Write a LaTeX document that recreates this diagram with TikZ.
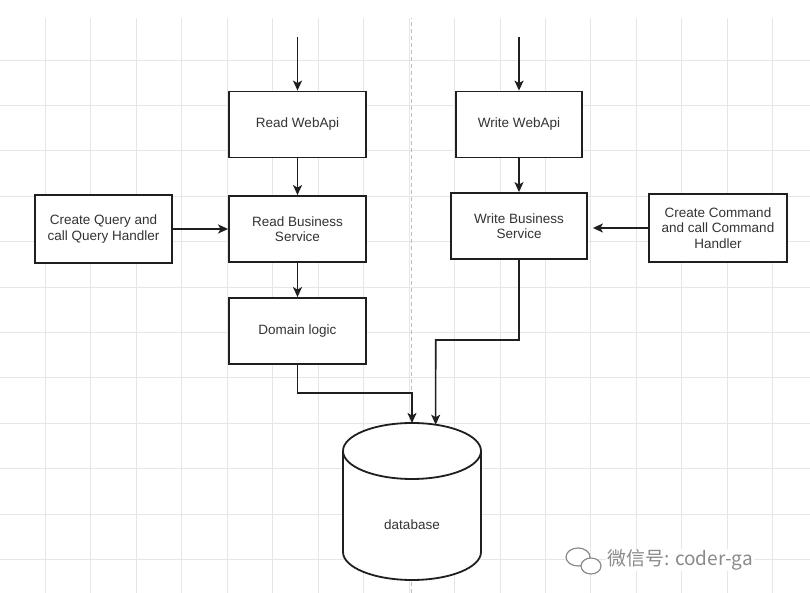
\documentclass[tikz,border=0pt]{standalone}
\usepackage{fontspec}
\setmainfont{Liberation Sans}
\newfontfamily\cjkfont{Noto Sans CJK SC}
\usepackage{xcolor}
\definecolor{gridGray}{HTML}{E6E6E6}
\definecolor{splitGray}{HTML}{BDBDBD}
\definecolor{inkDark}{HTML}{1F1F1F}
\definecolor{textDark}{HTML}{333333}
\definecolor{markGray}{HTML}{8A8A8A}
\usetikzlibrary{arrows.meta,shapes.geometric}

\begin{document}
\begin{tikzpicture}[x=1pt, y=1pt,
    every node/.style={font=\fontsize{13.5}{15.5}\selectfont, text=textDark},
    box/.style={draw=inkDark, fill=white, line width=1.8pt, align=center, inner sep=0pt, minimum height=66pt},
    flow/.style={draw=inkDark, line width=1.6pt, -{Stealth[length=10pt, width=9pt, inset=2.5pt]}},
    grid line/.style={draw=gridGray, line width=0.9pt},
    split/.style={draw=splitGray, line width=0.8pt, dash pattern=on 4pt off 3pt}]
  \useasboundingbox (0,0) rectangle (810,593);
  % Background grid
  \foreach \k in {1,...,17}
    \draw[grid line] (45.45*\k, 0) -- (45.45*\k, 575);
  \foreach \k in {0,...,11}
    \draw[grid line] (0, 533-45.4*\k) -- (810, 533-45.4*\k);
  \draw[split] (411, 0) -- (411, 575);
  % Read side
  \node[box, minimum width=137pt] (readapi) at (297.5, 468.5) {Read WebApi};
  \node[box, minimum width=137pt] (readbiz) at (297.5, 364) {Read Business\\Service};
  \node[box, minimum width=137pt] (domain) at (297.5, 262) {Domain logic};
  \node[box, minimum width=137pt, minimum height=68pt] (query) at (103.5, 364) {Create Query and\\call Query Handler};
  % Write side
  \node[box, minimum width=126pt] (writeapi) at (519, 468.5) {Write WebApi};
  \node[box, minimum width=136pt] (writebiz) at (519, 367) {Write Business\\Service};
  \node[box, minimum width=138pt, minimum height=68pt] (command) at (718, 365) {Create Command\\and call Command\\Handler};
  % Database
  \path[fill=white, draw=inkDark, line width=1.8pt] (343, 142) -- (343, 41)
    arc[start angle=180, end angle=360, x radius=69pt, y radius=28pt] -- (481, 142);
  \node[ellipse, draw=inkDark, fill=white, line width=1.8pt, minimum width=138pt, minimum height=56pt,
    inner sep=0pt, outer sep=0pt] (db) at (412, 142) {};
  \node (dblabel) at (412, 68) {database};
  % Connectors
  \coordinate (readin) at (297.5, 556);
  \coordinate (writein) at (519, 556);
  \coordinate (readbend) at (412, 200);
  \coordinate (writebend) at (435.7, 253);
  \draw[flow] (readin) -- (readapi);
  \draw[flow] (readapi) -- (readbiz);
  \draw[flow] (readbiz) -- (domain);
  \draw[flow] (query) -- (readbiz);
  \draw[flow] (writein) -- (writeapi);
  \draw[flow] (writeapi) -- (writebiz);
  \draw[flow, shorten >=5pt] (command.west) -- (command.west -| writebiz.east);
  \draw[flow] (domain) |- (readbend) -- (db.north);
  \draw[flow] (writebiz) |- (writebend) -- (db.48);
  % Watermark
  \draw[markGray, fill=white, line width=1.2pt] (578, 36) ellipse[x radius=12pt, y radius=9pt];
  \draw[markGray, fill=white, line width=1.2pt] (591, 27) ellipse[x radius=10pt, y radius=8pt];
  \node[font=\cjkfont\fontsize{19}{19}\selectfont, text=markGray, fill=white, inner sep=1pt, anchor=west] (mark) at (606, 33) {微信号: coder-ga};
\end{tikzpicture}
\end{document}
